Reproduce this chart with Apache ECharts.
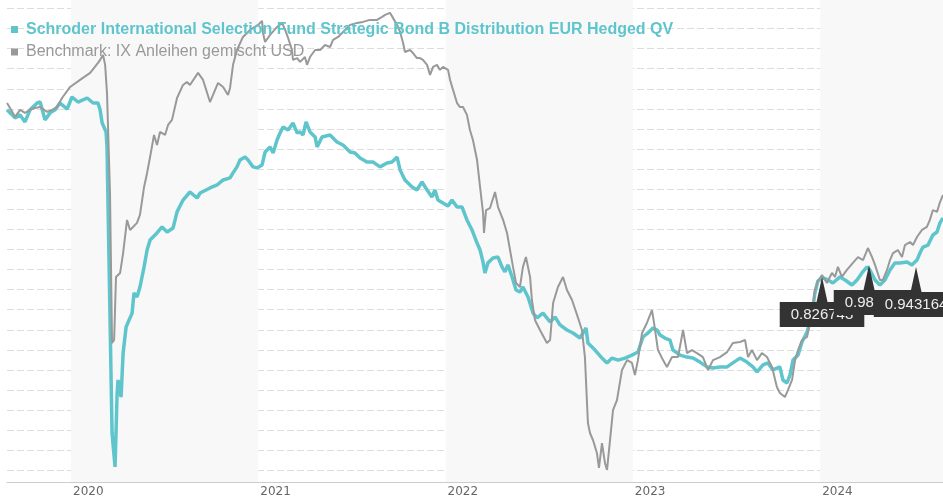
<!DOCTYPE html>
<html><head><meta charset="utf-8">
<script src="https://cdn.jsdelivr.net/npm/echarts@6/dist/echarts.min.js"></script>
<style>html,body{margin:0;padding:0;background:#fff}#c{width:943px;height:500px}</style>
</head><body><div id="c"></div>
<script>
const fundName = 'Schroder International Selection Fund Strategic Bond B Distribution EUR Hedged QV';
const benchName = 'Benchmark: IX Anleihen gemischt USD';
// [decimal year, performance %]
const fundData = [[2019.658,-0.05],[2019.680,-0.25],[2019.701,-0.45],[2019.728,-0.30],[2019.754,-0.65],[2019.781,-0.05],[2019.819,0.29],[2019.835,0.34],[2019.861,-0.55],[2019.888,-0.20],[2019.915,-0.05],[2019.941,0.29],[2019.979,-0.01],[2020.005,0.59],[2020.037,0.34],[2020.086,0.54],[2020.118,0.29],[2020.144,0.29],[2020.155,-0.05],[2020.166,-0.70],[2020.187,-1.15],[2020.192,-1.90],[2020.219,-16.14],[2020.235,-17.83],[2020.246,-14.15],[2020.251,-13.50],[2020.267,-14.35],[2020.278,-12.16],[2020.294,-10.86],[2020.310,-10.51],[2020.326,-10.17],[2020.336,-9.17],[2020.352,-9.37],[2020.368,-8.87],[2020.390,-7.87],[2020.406,-7.03],[2020.422,-6.53],[2020.459,-6.18],[2020.486,-5.88],[2020.513,-6.13],[2020.545,-5.93],[2020.566,-5.13],[2020.598,-4.54],[2020.635,-4.14],[2020.673,-4.44],[2020.689,-4.19],[2020.742,-3.94],[2020.780,-3.79],[2020.812,-3.54],[2020.849,-3.44],[2020.865,-3.19],[2020.886,-2.89],[2020.902,-2.55],[2020.929,-2.40],[2020.945,-2.55],[2020.972,-2.89],[2020.993,-2.94],[2021.020,-2.79],[2021.036,-2.15],[2021.063,-1.90],[2021.079,-2.20],[2021.100,-1.55],[2021.116,-1.20],[2021.132,-0.90],[2021.159,-1.05],[2021.185,-0.70],[2021.207,-1.20],[2021.223,-1.15],[2021.239,-1.30],[2021.255,-0.65],[2021.276,-1.15],[2021.303,-1.40],[2021.314,-1.90],[2021.340,-1.40],[2021.383,-1.30],[2021.420,-1.65],[2021.452,-1.80],[2021.490,-2.15],[2021.516,-2.20],[2021.543,-2.45],[2021.580,-2.65],[2021.612,-2.65],[2021.650,-2.89],[2021.687,-2.70],[2021.714,-2.65],[2021.741,-2.40],[2021.757,-3.04],[2021.783,-3.54],[2021.821,-3.89],[2021.847,-4.04],[2021.874,-3.64],[2021.901,-4.04],[2021.927,-4.39],[2021.943,-4.04],[2021.959,-4.54],[2021.986,-4.69],[2022.013,-4.84],[2022.034,-4.54],[2022.061,-4.89],[2022.088,-4.89],[2022.114,-5.53],[2022.141,-6.03],[2022.168,-6.68],[2022.184,-7.03],[2022.200,-7.63],[2022.210,-8.17],[2022.226,-7.67],[2022.253,-7.43],[2022.280,-7.38],[2022.301,-7.87],[2022.317,-8.12],[2022.333,-7.77],[2022.355,-8.37],[2022.376,-9.02],[2022.397,-9.12],[2022.413,-8.87],[2022.440,-9.37],[2022.467,-10.17],[2022.488,-10.41],[2022.520,-10.17],[2022.558,-10.61],[2022.584,-10.36],[2022.611,-10.76],[2022.648,-11.01],[2022.680,-11.16],[2022.718,-11.41],[2022.750,-10.91],[2022.760,-11.66],[2022.798,-12.01],[2022.835,-12.41],[2022.862,-12.65],[2022.889,-12.41],[2022.921,-12.51],[2022.958,-12.41],[2022.995,-12.26],[2023.027,-12.11],[2023.054,-11.36],[2023.081,-11.16],[2023.107,-10.91],[2023.129,-11.01],[2023.145,-11.26],[2023.171,-11.41],[2023.198,-11.51],[2023.214,-12.01],[2023.252,-12.26],[2023.289,-12.36],[2023.321,-12.41],[2023.358,-12.61],[2023.396,-12.85],[2023.428,-12.90],[2023.465,-12.85],[2023.503,-12.85],[2023.534,-12.65],[2023.572,-12.41],[2023.609,-12.61],[2023.641,-12.85],[2023.663,-13.10],[2023.695,-12.75],[2023.721,-12.65],[2023.748,-13.00],[2023.785,-12.85],[2023.801,-13.50],[2023.823,-13.65],[2023.839,-13.25],[2023.855,-12.51],[2023.882,-12.26],[2023.903,-11.61],[2023.930,-11.11],[2023.956,-10.26],[2023.972,-9.17],[2023.988,-8.57],[2024.015,-8.42],[2024.042,-8.52],[2024.068,-8.67],[2024.106,-8.37],[2024.133,-8.52],[2024.170,-8.77],[2024.197,-8.52],[2024.223,-8.17],[2024.250,-7.87],[2024.266,-8.02],[2024.293,-8.52],[2024.319,-8.77],[2024.346,-8.52],[2024.373,-8.02],[2024.399,-7.67],[2024.426,-7.67],[2024.464,-7.63],[2024.490,-7.77],[2024.517,-7.53],[2024.533,-7.18],[2024.549,-6.88],[2024.576,-6.78],[2024.602,-6.28],[2024.624,-6.13],[2024.640,-5.68],[2024.656,-5.43]];
const benchData = [[2019.658,0.29],[2019.680,-0.05],[2019.701,-0.40],[2019.728,-0.05],[2019.754,-0.20],[2019.781,-0.05],[2019.808,0.04],[2019.835,0.09],[2019.872,-0.15],[2019.899,-0.05],[2019.925,0.09],[2019.952,0.54],[2019.995,1.09],[2020.048,1.44],[2020.102,1.79],[2020.144,2.29],[2020.155,2.44],[2020.171,2.68],[2020.182,2.19],[2020.192,0.79],[2020.208,-4.19],[2020.219,-11.66],[2020.230,-11.51],[2020.240,-8.37],[2020.262,-8.17],[2020.278,-7.18],[2020.299,-5.53],[2020.315,-6.03],[2020.331,-5.88],[2020.352,-5.68],[2020.368,-5.28],[2020.390,-3.89],[2020.406,-3.19],[2020.422,-2.40],[2020.443,-1.30],[2020.459,-1.80],[2020.475,-1.15],[2020.502,-1.30],[2020.518,-0.80],[2020.539,-0.55],[2020.566,0.54],[2020.598,1.19],[2020.619,1.34],[2020.635,1.19],[2020.678,1.79],[2020.705,1.44],[2020.742,0.34],[2020.785,1.29],[2020.812,1.09],[2020.838,0.69],[2020.849,1.04],[2020.865,2.19],[2020.886,2.93],[2020.918,3.58],[2020.956,3.93],[2020.999,4.18],[2021.020,4.38],[2021.025,3.78],[2021.036,3.33],[2021.063,3.68],[2021.100,4.08],[2021.127,4.28],[2021.143,3.93],[2021.159,3.53],[2021.180,2.93],[2021.185,2.44],[2021.207,2.53],[2021.223,2.34],[2021.249,2.58],[2021.260,2.19],[2021.276,2.58],[2021.303,2.93],[2021.330,2.93],[2021.356,3.18],[2021.383,3.08],[2021.399,3.43],[2021.426,3.58],[2021.452,3.83],[2021.490,4.18],[2021.527,4.28],[2021.559,4.33],[2021.596,4.43],[2021.634,4.43],[2021.661,4.58],[2021.677,4.68],[2021.703,4.78],[2021.719,4.53],[2021.741,4.18],[2021.757,3.83],[2021.773,3.28],[2021.783,2.83],[2021.810,2.93],[2021.826,2.78],[2021.847,2.53],[2021.863,2.53],[2021.879,2.44],[2021.901,2.19],[2021.917,1.69],[2021.933,2.09],[2021.954,2.19],[2021.970,1.94],[2021.986,2.09],[2022.013,1.94],[2022.024,1.44],[2022.040,0.94],[2022.061,0.29],[2022.077,0.09],[2022.093,0.09],[2022.114,-0.30],[2022.130,-1.05],[2022.146,-1.55],[2022.168,-2.55],[2022.184,-3.89],[2022.200,-5.18],[2022.205,-6.18],[2022.216,-5.04],[2022.237,-4.94],[2022.264,-4.14],[2022.280,-4.89],[2022.307,-5.53],[2022.328,-6.18],[2022.344,-7.03],[2022.360,-7.87],[2022.376,-8.67],[2022.397,-8.87],[2022.413,-7.87],[2022.429,-7.38],[2022.451,-8.37],[2022.461,-9.52],[2022.477,-10.51],[2022.504,-11.01],[2022.541,-11.66],[2022.558,-11.51],[2022.574,-9.67],[2022.600,-8.87],[2022.627,-8.37],[2022.648,-9.02],[2022.675,-9.52],[2022.702,-10.26],[2022.728,-11.01],[2022.744,-12.36],[2022.760,-15.64],[2022.771,-16.14],[2022.787,-16.49],[2022.808,-17.14],[2022.819,-17.88],[2022.835,-16.64],[2022.851,-17.63],[2022.862,-17.98],[2022.878,-16.49],[2022.894,-15.00],[2022.915,-14.50],[2022.942,-13.00],[2022.969,-12.51],[2022.995,-12.65],[2023.011,-13.25],[2023.027,-12.51],[2023.049,-11.16],[2023.075,-10.66],[2023.102,-10.02],[2023.113,-10.66],[2023.134,-12.01],[2023.161,-12.51],[2023.182,-12.85],[2023.209,-12.36],[2023.241,-12.36],[2023.268,-11.01],[2023.289,-12.16],[2023.316,-12.01],[2023.342,-12.16],[2023.374,-12.36],[2023.401,-13.00],[2023.428,-12.51],[2023.465,-12.36],[2023.503,-12.11],[2023.534,-11.66],[2023.572,-11.61],[2023.599,-11.51],[2023.615,-12.36],[2023.636,-12.01],[2023.663,-12.51],[2023.689,-12.16],[2023.716,-12.36],[2023.743,-12.85],[2023.769,-13.85],[2023.785,-14.15],[2023.812,-14.35],[2023.828,-14.00],[2023.850,-13.50],[2023.866,-12.51],[2023.882,-12.01],[2023.903,-11.51],[2023.930,-11.36],[2023.956,-10.17],[2023.972,-9.02],[2023.988,-8.57],[2024.010,-8.27],[2024.036,-8.67],[2024.063,-8.17],[2024.079,-8.37],[2024.095,-7.87],[2024.116,-8.37],[2024.143,-8.02],[2024.175,-7.67],[2024.202,-7.38],[2024.229,-7.53],[2024.255,-6.93],[2024.277,-7.38],[2024.293,-7.77],[2024.319,-8.52],[2024.335,-8.52],[2024.357,-8.02],[2024.373,-7.53],[2024.389,-7.18],[2024.415,-7.03],[2024.437,-7.38],[2024.453,-6.78],[2024.480,-6.63],[2024.496,-6.78],[2024.517,-6.38],[2024.544,-6.03],[2024.570,-5.88],[2024.586,-5.53],[2024.602,-5.04],[2024.624,-5.13],[2024.640,-4.64],[2024.656,-4.29]];
// distribution flags on the fund line
const flagDates = [2024.010, 2024.261, 2024.512];
const flagValues = [-8.37, -7.77, -7.87];
const flagTexts = ['0.826743', '0.985218', '0.943164'];
// axis ticks
const yearLabels = [2020, 2021, 2022, 2023, 2024];
const yearBandEdges = [2020, 2021, 2022, 2023, 2024, 2024.656];
const gridValues = [-18, -17, -16, -15, -14, -13, -12, -11, -10, -9, -8, -7, -6, -5, -4, -3, -2, -1, 0, 1, 2, 3, 4, 5];

const TEAL = '#5ec5cc', GREY = '#999999', DARK = '#333333';
const chart = echarts.init(document.getElementById('c'), null, {renderer: 'canvas'});
chart.setOption({
  animation: false,
  backgroundColor: '#ffffff',
  textStyle: {fontFamily: 'Liberation Sans'},
  grid: {left: 7, right: 0, top: 0, bottom: 18, containLabel: false},
  legend: {
    orient: 'vertical', left: 6, top: 16, icon: 'rect', itemWidth: 7, itemHeight: 7, itemGap: 5.5,
    selectedMode: false,
    textStyle: {fontSize: 16, lineHeight: 17, padding: [0, 0, 0, 3]},
    data: [
      {name: fundName, textStyle: {color: TEAL, fontWeight: 'bold'}},
      {name: benchName, textStyle: {color: GREY}}
    ]
  },
  xAxis: {
    type: 'value', min: 2019.658, max: 2024.656,
    axisLine: {show: true, onZero: false, lineStyle: {color: '#cccccc', width: 1}},
    axisTick: {show: false, customValues: yearBandEdges},
    splitLine: {show: false},
    splitArea: {show: true, areaStyle: {color: ['#f8f8f8', 'rgba(255,255,255,0)']}},
    axisLabel: {
      show: true, color: '#666666', fontSize: 12, fontFamily: 'DejaVu Sans', margin: 4,
      align: 'left', padding: [0, 0, 0, 2], customValues: yearLabels,
      formatter: v => String(Math.round(v))
    }
  },
  yAxis: {
    type: 'value', min: -18.58, max: 5.42,
    axisLine: {show: false}, axisLabel: {show: false},
    axisTick: {show: false, customValues: gridValues},
    splitLine: {show: true, lineStyle: {color: '#dddddd', type: [7, 3], width: 1}}
  },
  series: [
    {name: fundName, type: 'line', data: fundData, showSymbol: false, symbol: 'none',
     lineStyle: {color: TEAL, width: 3.5}, itemStyle: {color: TEAL}, z: 2},
    {name: benchName, type: 'line', data: benchData, showSymbol: false, symbol: 'none',
     lineStyle: {color: GREY, width: 2}, itemStyle: {color: GREY}, z: 3},
    {name: 'flags', type: 'scatter', z: 5,
     symbol: 'path://M5,0 L10,25 L0,25 Z', symbolSize: [11, 25], symbolOffset: [0, '50%'],
     itemStyle: {color: DARK, opacity: 1},
     label: {show: true, position: 'bottom', distance: 0, formatter: p => p.name,
       color: '#eeeeee', backgroundColor: DARK, padding: [5, 11, 5, 11],
       fontSize: 15, lineHeight: 15, fontFamily: 'Liberation Sans'},
     data: flagDates.map((t, i) => ({name: flagTexts[i], value: [t, flagValues[i]],
       label: i === 1 ? {offset: [7, 0]} : {}}))
    }
  ]
});
</script></body></html>
